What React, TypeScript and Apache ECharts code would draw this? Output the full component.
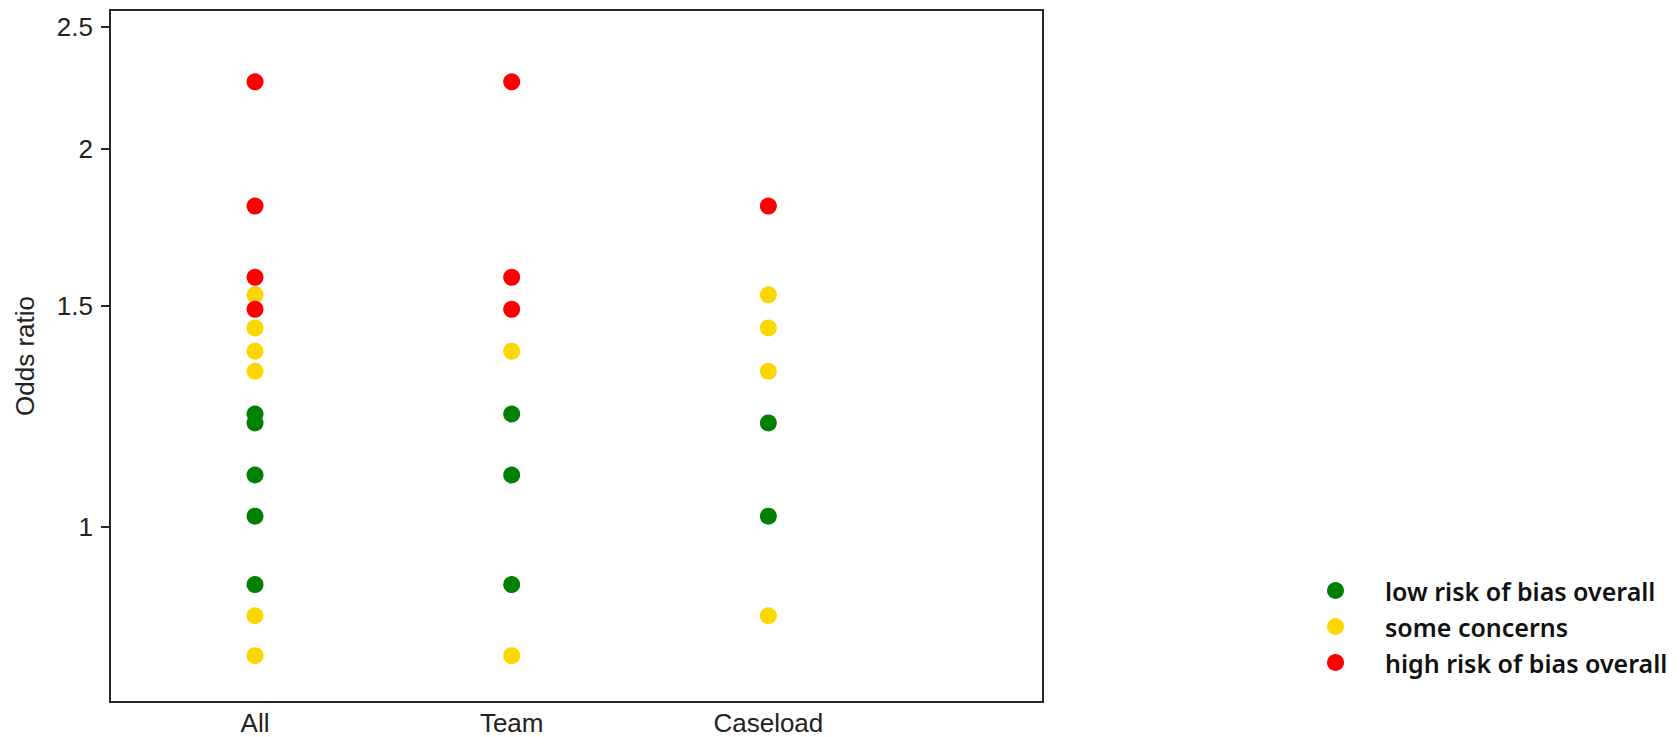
import React, { useEffect, useRef } from "react";
import * as echarts from "echarts";

// Study groupings along the x axis
const categories = ["All", "Team", "Caseload"];

// Odds ratios per risk-of-bias rating and grouping
const lowRiskAll = [1.23, 1.21, 1.1, 1.02, 0.9];
const lowRiskTeam = [1.23, 1.1, 0.9];
const lowRiskCaseload = [1.21, 1.02];

const someConcernsAll = [1.53, 1.44, 1.38, 1.33, 0.85, 0.79];
const someConcernsTeam = [1.38, 0.79];
const someConcernsCaseload = [1.53, 1.44, 1.33, 0.85];

const highRiskAll = [2.26, 1.8, 1.58, 1.49];
const highRiskTeam = [2.26, 1.58, 1.49];
const highRiskCaseload = [1.8];

// Odds-ratio tick marks on the log axis
const yTicks = [1, 1.5, 2, 2.5];

const seriesNames = [
  "low risk of bias overall",
  "some concerns",
  "high risk of bias overall",
];
const seriesColors = ["#008000", "#FFD700", "#FF0000"];

const toPoints = (groups: number[][]) =>
  groups.flatMap((vals, i) => vals.map((v) => [i + 1, v]));

export default function App() {
  const ref = useRef<HTMLDivElement>(null);

  useEffect(() => {
    if (!ref.current) return;
    const chart = echarts.init(ref.current, undefined, { renderer: "svg" });

    const groups = [
      [lowRiskAll, lowRiskTeam, lowRiskCaseload],
      [someConcernsAll, someConcernsTeam, someConcernsCaseload],
      [highRiskAll, highRiskTeam, highRiskCaseload],
    ];

    const axisFont = "'Liberation Sans', Arial, sans-serif";

    chart.setOption({
      animation: false,
      backgroundColor: "#ffffff",
      grid: {
        left: 110,
        right: 634,
        top: 10,
        bottom: 35,
        show: true,
        borderColor: "#262626",
        borderWidth: 2,
        backgroundColor: "transparent",
      },
      legend: {
        orient: "vertical",
        left: 1322,
        top: 573,
        icon: "circle",
        itemWidth: 17,
        itemHeight: 17,
        itemGap: 11,
        data: seriesNames,
        textStyle: {
          fontFamily: "'Noto Sans', sans-serif",
          fontWeight: 600,
          fontSize: 25,
          color: "#111111",
          padding: [0, 0, 0, 36],
          lineHeight: 17,
          height: 17,
        },
      },
      xAxis: {
        type: "value",
        min: 0.435,
        max: 4.07,
        splitLine: { show: false },
        axisLine: { show: false },
        axisTick: { show: false },
        axisLabel: {
          customValues: [1, 2, 3],
          formatter: (v: number) => categories[Math.round(v) - 1] ?? "",
          fontFamily: axisFont,
          fontSize: 26,
          color: "#222222",
          margin: 8,
        },
      },
      yAxis: {
        type: "log",
        min: 0.7258,
        max: 2.578,
        name: "Odds ratio",
        nameLocation: "middle",
        nameGap: 72,
        nameTextStyle: {
          fontFamily: axisFont,
          fontSize: 26,
          color: "#222222",
        },
        splitLine: { show: false },
        axisLine: { show: false },
        axisTick: {
          show: true,
          customValues: yTicks,
          length: 9,
          lineStyle: { color: "#262626", width: 2 },
        },
        axisLabel: {
          customValues: yTicks,
          formatter: (v: number) => String(Math.round(v * 10) / 10),
          fontFamily: axisFont,
          fontSize: 26,
          color: "#222222",
          margin: 17,
        },
      },
      series: groups.map((g, i) => ({
        name: seriesNames[i],
        type: "scatter",
        symbol: "circle",
        symbolSize: 17,
        itemStyle: { color: seriesColors[i], opacity: 1 },
        data: toPoints(g),
      })),
    });

    return () => chart.dispose();
  }, []);

  return (
    <div
      ref={ref}
      style={{ position: "absolute", left: 0, top: 0, width: 1677, height: 737 }}
    />
  );
}
